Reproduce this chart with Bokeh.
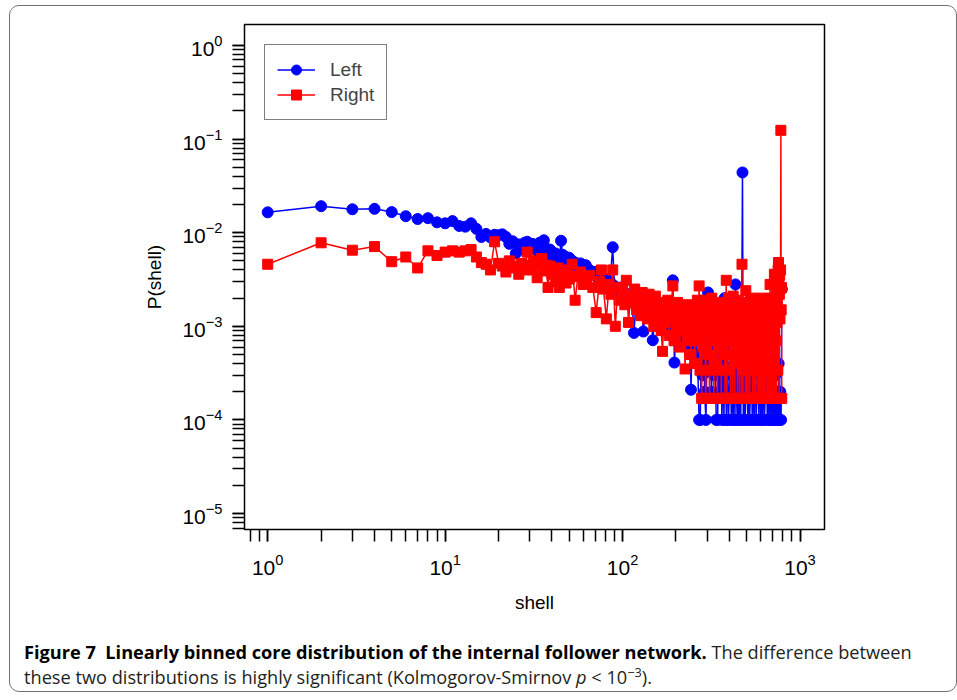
from bokeh.plotting import figure
from bokeh.models import Div
from bokeh.layouts import column
from bokeh.embed import file_html
from bokeh.resources import INLINE

# ---------------- data ----------------
left_shell = [
    1, 2, 3, 4, 5, 6, 7, 8, 9, 10,
    11, 12, 13, 14, 15, 16, 17, 18, 19, 20,
    21, 22, 23, 24, 25, 26, 27, 28, 29, 30,
    31, 32, 33, 34, 35, 36, 37, 38, 39, 40,
    41, 42, 43, 44, 45, 46, 47, 48, 49, 50,
    52, 54, 56, 58, 60, 62, 65, 68, 70, 72,
    75, 78, 80, 83, 85, 88, 90, 93, 95, 98,
    100, 103, 106, 110, 113, 116, 119, 122, 125, 128,
    131, 134, 137, 140, 144, 148, 152, 156, 160, 164,
    168, 172, 176, 180, 184, 188, 192, 196, 200, 205,
    210, 215, 220, 225, 230, 235, 240, 243, 247, 251,
    255, 260, 265, 270, 274, 278, 282, 286, 290, 295,
    303, 307, 312, 317, 322, 327, 332, 337, 343, 348,
    353, 358, 363, 368, 373, 376, 380, 385, 390, 395,
    400, 405, 410, 415, 420, 425, 430, 433, 438, 443,
    448, 453, 458, 463, 468, 474, 479, 485, 490, 496,
    502, 508, 514, 520, 526, 532, 538, 545, 552, 559,
    566, 573, 580, 587, 594, 601, 608, 615, 622, 630,
    638, 646, 654, 662, 670, 678, 686, 694, 702, 710,
    718, 726, 734, 742, 750, 758, 766, 774, 782, 790,
]
left_p = [
    .0165, .0192, .0178, .0180, .0166, .0150, .0140, .0143, .0129, .0126,
    .0133, .0118, .0116, .0126, .0110, .0090, .0097, .0089, .0095, .0094,
    .0096, .0090, .0076, .0081, .0060, .0075, .0066, .0078, .0080, .0070,
    .0076, .0072, .0064, .0078, .0060, .0083, .0068, .0058, .0066, .0062,
    .0054, .0060, .0056, .0050, .0082, .0058, .0052, .0055, .0046, .0054,
    .0050, .0048, .0043, .0047, .0042, .0045, .0040, .0036, .0038, .0033,
    .0035, .0030, .0032, .0028, .0030, .0070, .0027, .0025, .0024, .0026,
    .0022, .0023, .0020, .0021, .0018, .00085, .0019, .0016, .0020, .0017,
    .00088, .0015, .0018, .0014, .0016, .00071, .0013, .0015, .0012, .0014,
    .0011, .0013, .0010, .0012, .0009, .0011, .0031, .00041, .0010, .0009,
    .0012, .0008, .0011, .0007, .0010, .0006, .0009, .00021, .0008, .0010,
    .0005, .0008, .0004, .0001, .0001, .0007, .0003, .0006, .0002, .0001,
    .0023, .0004, .0007, .0002, .0006, .0003, .0008, .0001, .0001, .0005,
    .0002, .0007, .0001, .0004, .0001, .0020, .0003, .0001, .0006, .0001,
    .0002, .0005, .0001, .0003, .0001, .0007, .0001, .0028, .0002, .0001,
    .0004, .0001, .0003, .0001, .0005, .044, .0001, .0003, .0001, .0002,
    .0006, .0001, .0004, .0001, .0002, .0005, .0001, .0003, .0001, .0006,
    .0001, .0002, .0004, .0001, .0008, .0001, .0003, .0001, .0005, .0001,
    .0002, .0006, .0001, .0003, .0001, .0004, .0001, .0002, .0001, .0005,
    .0001, .0003, .0001, .0002, .0001, .0004, .0001, .0002, .0001, .0025,
]

right_shell = [
    1, 2, 3, 4, 5, 6, 7, 8, 9, 10,
    11, 12, 13, 14, 15, 16, 17, 18, 19, 20,
    21, 22, 23, 24, 25, 26, 27, 28, 29, 30,
    31, 32, 33, 34, 35, 36, 37, 38, 39, 40,
    41, 42, 43, 44, 45, 46, 47, 48, 49, 50,
    52, 54, 56, 58, 60, 62, 65, 68, 71, 74,
    76, 78, 81, 84, 86, 88, 91, 94, 97, 100,
    103, 105, 108, 111, 114, 117, 120, 123, 126, 129,
    132, 135, 138, 141, 144, 147,
    150, 153, 156, 159, 162, 165, 168, 171, 174, 177,
    180, 183, 186, 189, 192, 195, 198, 201, 204, 207,
    210, 213, 216, 219, 222, 225, 228, 231, 234, 237,
    240, 243, 246, 249, 252, 255, 258, 261, 264, 267,
    270, 273, 276, 279, 282, 285, 288, 291, 294, 297,
    300, 303, 306, 309, 312, 315, 318, 321, 324, 327,
    330, 333, 336, 339, 342, 345, 348, 351, 354, 357,
    360, 363, 366, 369, 372, 375, 378, 381, 384, 387,
    390, 393, 396, 399, 402, 405, 408, 411, 414, 417,
    420, 423, 426, 429, 432, 435, 438, 441, 444, 447,
    450, 453, 456, 459, 462, 465, 468, 471, 474, 477,
    480, 483, 486, 489, 492, 495, 498, 501, 504, 507,
    510, 513, 516, 519, 522, 525, 528, 531, 534, 537,
    540, 543, 546, 549, 552, 555, 558, 561, 564, 567,
    570, 573, 576, 579, 582, 585, 588, 591, 594, 597,
    600, 603, 606, 609, 612, 615, 618, 621, 624, 627,
    630, 633, 636, 639, 642, 645, 648, 651, 654, 657,
    660, 663, 666, 669, 672, 675, 678, 681, 684, 687,
    690, 693, 696, 699, 702, 705, 708, 711, 714, 717,
    720, 723, 726, 729, 732, 735, 738, 741, 744, 747,
    750, 753, 756, 759, 762, 765, 768, 771, 774, 777,
    780, 783, 786, 789,
]
right_p = [
    .0046, .0078, .0065, .0071, .0049, .0055, .0042, .0064, .0057, .0062,
    .0064, .0062, .0064, .0066, .0055, .0048, .0046, .0040, .0080, .0047,
    .0044, .0038, .0050, .0042, .0044, .0036, .0047, .0040, .0062, .0045,
    .0040, .0050, .0033, .0046, .0053, .0039, .0045, .0026, .0044, .0036,
    .0040, .0030, .0042, .0026, .0038, .0034, .0040, .0029, .0036, .0032,
    .0046, .0019, .0034, .0038, .0028, .0033, .0035, .0026, .0014, .0030,
    .0040, .0025, .0012, .0028, .0022, .0040, .0010, .0026, .0019, .0024,
    .0017, .0031, .0011, .0022, .0018, .0025, .0015, .0021, .0013, .0023,
    .0016, .0020, .0012, .0022, .0014, .0019,
    .0010, .0021, .0013, .0018, .0012, .0009, .00054, .0016, .0011, .0014,
    .0019, .0008, .0015, .0012, .0027, .0007, .0015, .0010, .0018, .0009,
    .0006, .0013, .0017, .0009, .0012, .00035, .0016, .0007, .0013, .0010,
    .0012, .0005, .0017, .0008, .0011, .0004, .0014, .0007, .0019, .0008,
    .0027, .00034, .0012, .00017, .0016, .0006, .0019, .0009, .00017, .0013,
    .0015, .0005, .0011, .00017, .0018, .00034, .0020, .0007, .0013, .00017,
    .0009, .0016, .0004, .0012, .00017, .0017, .0006, .0010, .00034, .0015,
    .00017, .0018, .0008, .0012, .0005, .0010, .00017, .0014, .0031, .00017,
    .0014, .0007, .0020, .00034, .0011, .00017, .0017, .0005, .0013, .00017,
    .0021, .0008, .0012, .00017, .0016, .0004, .0013, .0019, .00017, .0010,
    .0007, .0015, .00017, .0018, .0005, .0012, .00017, .0046, .0006, .00017,
    .0012, .00034, .0016, .0009, .00017, .0024, .0007, .00017, .0014, .0010,
    .00017, .0016, .0005, .0011, .00017, .0019, .0008, .0013, .00034, .0017,
    .00017, .0011, .0007, .0020, .00017, .0014, .0005, .0018, .00017, .0010,
    .0015, .00034, .0012, .00017, .0019, .0008, .0013, .00017, .0017, .0006,
    .00017, .0012, .0016, .0005, .00017, .0014, .0009, .0020, .00017, .0011,
    .0007, .0017, .00017, .0013, .00034, .0015, .0010, .00017, .0018, .0006,
    .0012, .00017, .0019, .0008, .00017, .0014, .0028, .0011, .00017, .0016,
    .0005, .0013, .00017, .0017, .0009, .0020, .00017, .0012, .0015, .0036,
    .00017, .0013, .0020, .0007, .0017, .00017, .0025, .0011, .0019, .0030,
    .00034, .0040, .0048, .0029, .00017, .0022, .0035, .0012, .0026, .0040,
    .124, .0015, .0026, .00017,
]

series_names = ["Left", "Right"]
x_label = "shell"
y_label = "P(shell)"

# ---------------- figure ----------------
FONT = "Liberation Sans"
p = figure(
    width=945, height=610,
    x_axis_type="log", y_axis_type="log",
    x_range=(0.74, 1374), y_range=(6.75e-6, 1.675),
    output_backend="svg", toolbar_location=None,
    min_border_left=234, min_border_right=131,
    min_border_top=18, min_border_bottom=87,
    background_fill_color="white", border_fill_color="white",
)
p.grid.visible = False
p.outline_line_color = "black"
p.outline_line_width = 1.5

for ax in (p.xaxis[0], p.yaxis[0]):
    ax.axis_line_color = None
    ax.major_tick_line_color = "black"
    ax.minor_tick_line_color = "black"
    ax.major_tick_line_width = 1.5
    ax.minor_tick_line_width = 1.5
    ax.major_tick_out = 12
    ax.major_tick_in = 0
    ax.minor_tick_out = 12
    ax.minor_tick_in = 0
    ax.major_label_text_font = FONT
    ax.major_label_text_font_size = "21px"
    ax.major_label_text_color = "black"
    ax.axis_label_text_font = FONT
    ax.axis_label_text_font_size = "19px"
    ax.axis_label_text_font_style = "normal"
    ax.axis_label_text_color = "black"

p.xaxis.axis_label = x_label
p.yaxis.axis_label = y_label
p.xaxis.major_label_standoff = 12
p.yaxis.major_label_standoff = 10
p.xaxis.axis_label_standoff = 14
p.yaxis.axis_label_standoff = 14

p.line(left_shell, left_p, line_color="#0000ff", line_width=1.5, legend_label=series_names[0])
p.scatter(left_shell, left_p, marker="circle", size=11, fill_color="#0000ff",
          line_color="#0000ff", legend_label=series_names[0])
p.line(right_shell, right_p, line_color="#ff0000", line_width=1.5, legend_label=series_names[1])
p.scatter(right_shell, right_p, marker="square", size=10, fill_color="#ff0000",
          line_color="#ff0000", legend_label=series_names[1])

lg = p.legend[0]
lg.location = "top_left"
lg.margin = 20
lg.padding = 12
lg.spacing = 0
lg.glyph_width = 38
lg.glyph_height = 25
lg.label_height = 25
lg.label_standoff = 15
lg.label_text_font = FONT
lg.label_text_font_size = "19px"
lg.border_line_color = "black"
lg.border_line_width = 1.5
lg.background_fill_alpha = 1.0

caption = Div(
    text=('<div style="padding:19px 0 0 9px;white-space:nowrap">'
          '<b style="color:#000">Figure 7&nbsp;&nbsp;Linearly binned core distribution of the internal follower network.</b>'
          ' The difference between<br>these two distributions is highly significant '
          '(Kolmogorov-Smirnov <i>p</i>&nbsp;&lt;&nbsp;10<sup style="font-size:70%;line-height:0">&minus;3</sup>).'
          '</div>'),
    width=945, height=74,
    styles={"font-family": "Open Sans", "font-size": "18.2px", "line-height": "25px",
            "color": "#231f20"},
)

layout = column(p, caption, width=948, height=687,
                styles={"border": "1.5px solid #707070", "border-radius": "10px",
                        "margin-top": "5px", "margin-left": "9px", "overflow": "hidden"})

open("out.html", "w").write(file_html(layout, INLINE))
